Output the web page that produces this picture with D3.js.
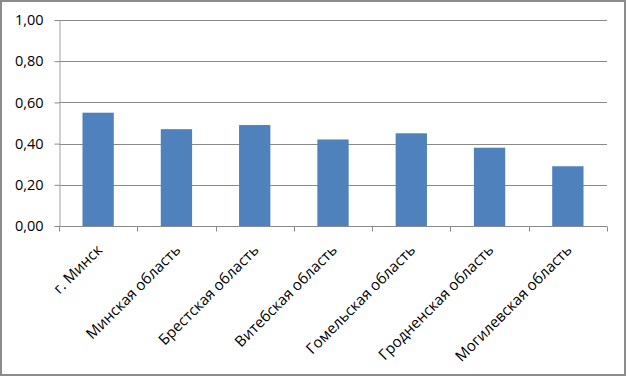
<!DOCTYPE html>
<html><head><meta charset="utf-8">
<script src="https://cdn.jsdelivr.net/npm/d3@7"></script>
<style>html,body{margin:0;padding:0;background:#fff}svg{display:block}</style>
</head><body>
<script>
const categories = ["г. Минск","Минская область","Брестская область","Витебская область","Гомельская область","Гродненская область","Могилевская область"];
const values = [0.55,0.47,0.49,0.42,0.45,0.38,0.29];
const yTicks = [0,0.2,0.4,0.6,0.8,1.0];

(function(){
const W=627,H=377;
const svg=d3.select("body").append("svg").attr("width",W).attr("height",H);
svg.append("rect").attr("x",1).attr("y",1).attr("width",W-3).attr("height",H-3)
  .attr("fill","#fff").attr("stroke","#8c8c8c").attr("stroke-width",2);

const pL=59,pR=607,pT=20,pB=226;
const x=d3.scaleBand().domain(categories).range([pL,pR]).paddingInner(0.6).paddingOuter(0.3);
const xb=d3.scaleBand().domain(categories).range([pL,pR]);
const y=d3.scaleLinear().domain([0,1]).range([pB,pT]);
const font="'Open Sans', sans-serif";

svg.append("g").selectAll("line").data(yTicks).join("line")
  .attr("x1",pL).attr("x2",pR).attr("y1",d=>Math.round(y(d))+0.5).attr("y2",d=>Math.round(y(d))+0.5)
  .attr("stroke","#8a8a8a").attr("stroke-width",1);

const ya=svg.append("g").attr("transform",`translate(${pL+0.5},0)`)
  .call(d3.axisLeft(y).tickValues(yTicks).tickSize(5).tickPadding(11).tickFormat(d=>d3.format(".2f")(d).replace(".",",")));
ya.select(".domain").attr("stroke","#a0a0a0");
ya.selectAll(".tick line").attr("stroke","#8a8a8a");
ya.selectAll("text").attr("font-family",font).attr("font-size",14.5).attr("fill","#000");

svg.append("g").selectAll("rect").data(values).join("rect")
  .attr("x",(d,i)=>x(categories[i])).attr("width",x.bandwidth())
  .attr("y",d=>y(d)).attr("height",d=>pB-y(d)).attr("fill","#4f81bd");

const xa=svg.append("g").attr("transform",`translate(0,${pB+0.5})`);
xa.append("line").attr("x1",pL).attr("x2",pR).attr("stroke","#8a8a8a");
const bounds=categories.map(c=>xb(c)).concat([pR]);
xa.selectAll("line.t").data(bounds).join("line").attr("class","t")
  .attr("x1",d=>Math.round(d)+0.5).attr("x2",d=>Math.round(d)+0.5).attr("y1",0).attr("y2",5).attr("stroke","#8a8a8a");

svg.append("g").selectAll("text").data(categories).join("text")
  .attr("transform",d=>`translate(${xb(d)+xb.bandwidth()/2+5},${pB+25}) rotate(-45)`)
  .attr("text-anchor","end").attr("font-family",font).attr("font-size",15).attr("fill","#000")
  .text(d=>d);
})();
</script>
</body></html>
